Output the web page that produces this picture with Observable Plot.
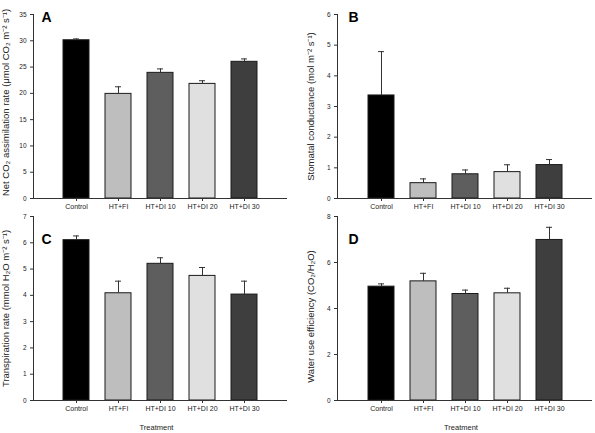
<!DOCTYPE html>
<html>
<head>
<meta charset="utf-8">
<script src="https://cdn.jsdelivr.net/npm/d3@7"></script>
<script src="https://cdn.jsdelivr.net/npm/@observablehq/plot@0.6"></script>
<style>
  html, body { margin: 0; padding: 0; background: #fff; }
  #wrap { position: relative; width: 595px; height: 433px; overflow: hidden; background: #fff; }
  #wrap > div { position: absolute; }
  svg { display: block; }
</style>
</head>
<body>
<div id="wrap">
  <div id="pA" style="left:0;top:0"></div>
  <div id="pB" style="left:297px;top:0"></div>
  <div id="pC" style="left:0;top:202px"></div>
  <div id="pD" style="left:297px;top:202px"></div>
</div>
<script>
// ---- data ----
const categories = ["Control", "HT+FI", "HT+DI 10", "HT+DI 20", "HT+DI 30"];
const netCO2 = [30.1, 19.9, 23.9, 21.8, 26.0];
const netCO2Err = [0.25, 1.35, 0.75, 0.6, 0.55];
const stomatal = [3.36, 0.5, 0.79, 0.86, 1.09];
const stomatalErr = [1.43, 0.14, 0.14, 0.24, 0.18];
const transpiration = [6.10, 4.08, 5.20, 4.74, 4.03];
const transpirationErr = [0.16, 0.46, 0.23, 0.32, 0.51];
const wue = [4.95, 5.18, 4.63, 4.66, 6.98];
const wueErr = [0.12, 0.35, 0.17, 0.22, 0.55];
const yTicksA = [0, 5, 10, 15, 20, 25, 30, 35];
const yTicksB = [0, 1, 2, 3, 4, 5, 6];
const yTicksC = [0, 1, 2, 3, 4, 5, 6, 7];
const yTicksD = [0, 2, 4, 6, 8];

// ---- style ----
const barColors = ["#000000", "#bebebe", "#5e5e5e", "#e0e0e0", "#3e3e3e"];
const FONT = "'Liberation Sans', Arial, Helvetica, sans-serif";

function panel(cfg) {
  const rows = categories.map((c, i) => ({cat: c, v: cfg.values[i], e: cfg.errors[i]}));
  const marks = [
    Plot.barY(rows, {x: "cat", y: "v", fill: "cat", stroke: "#1a1a1a", strokeWidth: 1}),
    Plot.ruleX(rows, {x: "cat", y1: "v", y2: d => d.v + d.e, stroke: "#333", strokeWidth: 1}),
    Plot.tickY(rows, {x: "cat", y: d => d.v + d.e, stroke: "#333", strokeWidth: 1, insetLeft: 10, insetRight: 10}),
    Plot.ruleY([0], {stroke: "#333"}),
    Plot.frame({anchor: "left", stroke: "#333"}),
    Plot.axisX({tickSize: 3, tickPadding: 3, fontSize: 7, label: null, stroke: "#333", fill: "#222"}),
    Plot.axisY({ticks: cfg.ticks, tickFormat: d3.format("d"), tickSize: 3, tickPadding: 4, fontSize: 6.5, label: null, stroke: "#333", fill: "#222"}),
    Plot.text([cfg.ylabel], {frameAnchor: "left", rotate: -90, dx: cfg.labelDx, dy: cfg.labelDy || 0, fontSize: 9.5, fill: "#222", textAnchor: "middle"}),
    Plot.text([cfg.letter], {frameAnchor: "top-left", textAnchor: "start", dx: cfg.letterDx, dy: cfg.letterDy, fontSize: 14, fontWeight: "bold", fill: "#000"})
  ];
  if (cfg.xlabel) {
    marks.push(Plot.text([cfg.xlabel], {frameAnchor: "bottom", dx: -4, dy: 29, fontSize: 7.5, fill: "#222"}));
  }
  return Plot.plot({
    width: cfg.width, height: cfg.height,
    marginLeft: cfg.marginLeft, marginRight: cfg.marginRight,
    marginTop: cfg.marginTop, marginBottom: cfg.marginBottom,
    style: {fontFamily: FONT, background: "transparent", color: "#222"},
    x: {domain: categories, paddingInner: 0.39, paddingOuter: 0.68, axis: null},
    y: {domain: [0, cfg.ticks[cfg.ticks.length - 1]], axis: null},
    color: {domain: categories, range: barColors},
    marks
  });
}

document.getElementById("pA").append(panel({
  values: netCO2, errors: netCO2Err, ticks: yTicksA, letter: "A",
  ylabel: "Net CO₂ assimilation rate (μmol CO₂ m⁻² s⁻¹)",
  width: 297, height: 215, marginLeft: 33, marginRight: 10, marginTop: 14, marginBottom: 17,
  labelDx: -28, labelDy: -4, letterDx: 8, letterDy: -2
}));
document.getElementById("pB").append(panel({
  values: stomatal, errors: stomatalErr, ticks: yTicksB, letter: "B",
  ylabel: "Stomatal conductance (mol m⁻² s⁻¹)",
  width: 298, height: 215, marginLeft: 40, marginRight: 3, marginTop: 14, marginBottom: 17,
  labelDx: -27, labelDy: 0, letterDx: 11, letterDy: -2
}));
document.getElementById("pC").append(panel({
  values: transpiration, errors: transpirationErr, ticks: yTicksC, letter: "C",
  ylabel: "Transpiration rate (mmol H₂O m⁻² s⁻¹)",
  width: 297, height: 231, marginLeft: 33, marginRight: 10, marginTop: 14, marginBottom: 33,
  labelDx: -28, labelDy: 0, letterDx: 8, letterDy: 18, xlabel: "Treatment"
}));
document.getElementById("pD").append(panel({
  values: wue, errors: wueErr, ticks: yTicksD, letter: "D",
  ylabel: "Water use efficiency (CO₂/H₂O)",
  width: 298, height: 231, marginLeft: 40, marginRight: 3, marginTop: 14, marginBottom: 33,
  labelDx: -27, labelDy: 8, letterDx: 11, letterDy: 18, xlabel: "Treatment"
}));
</script>
</body>
</html>
